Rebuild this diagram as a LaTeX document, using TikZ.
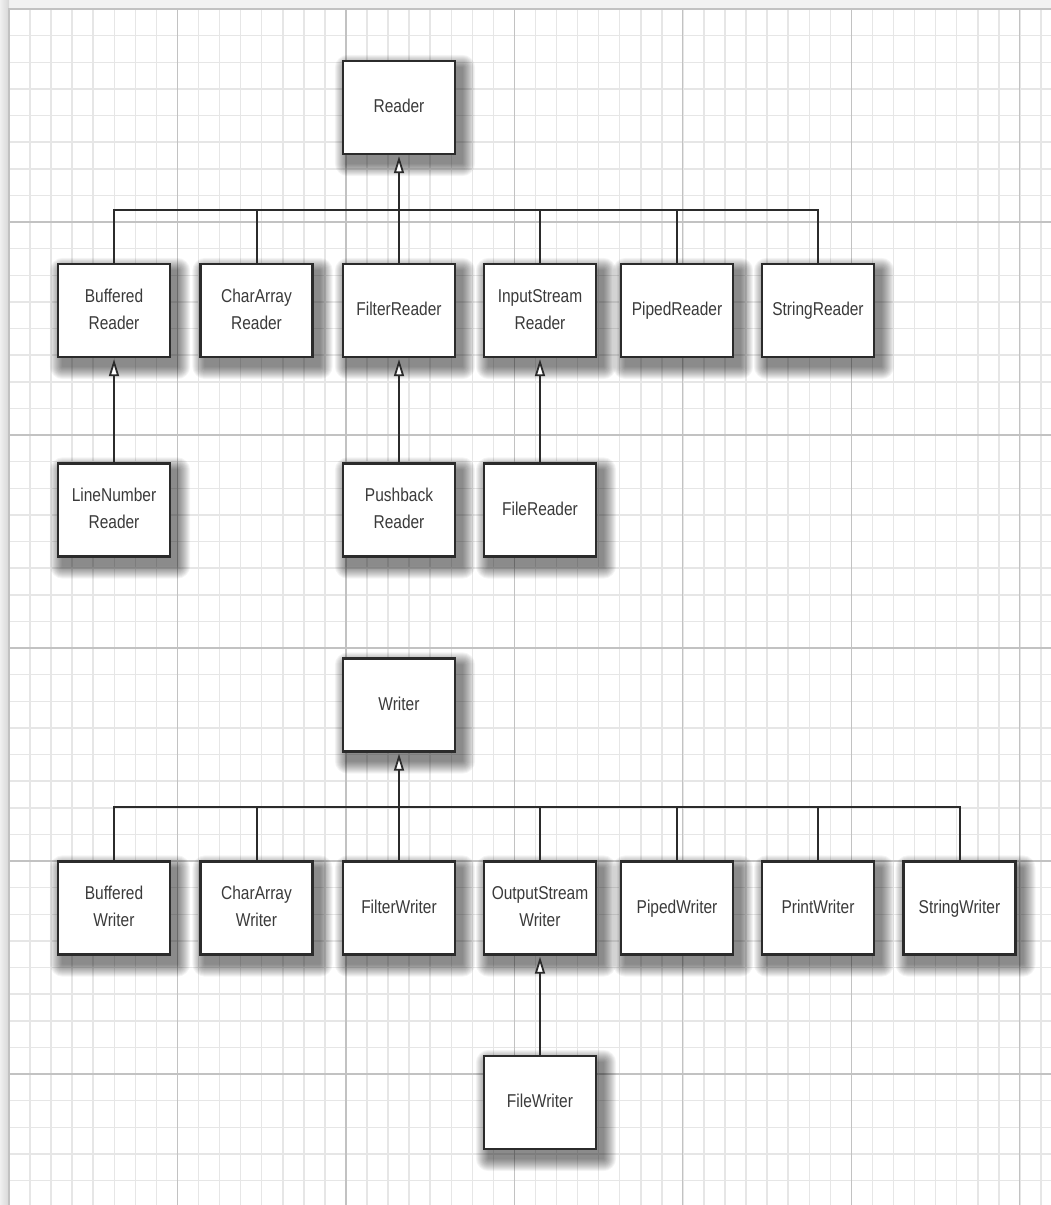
\documentclass[tikz,border=0pt]{standalone}
\usepackage{fontspec}
\setmainfont{Liberation Sans}
\usetikzlibrary{arrows.meta,calc}
\pgfdeclarelayer{bg}
\pgfdeclarelayer{shd}
\pgfsetlayers{bg,shd,main}
\definecolor{ink}{HTML}{2B2B2B}
\definecolor{txt}{HTML}{3A3A3A}
\definecolor{minorgrid}{HTML}{E6E6E6}
\definecolor{majorgrid}{HTML}{C2C2C2}
\newcommand\lbl[1]{\scalebox{1}[1.2]{\begin{tabular}{@{}c@{}}#1\end{tabular}}}
\begin{document}
\begin{tikzpicture}[x=1pt,y=-1pt,
  cls/.style={draw=ink,line width=2.4pt,fill=white,minimum width=112pt,minimum height=93pt,
    inner sep=0pt,font=\fontsize{15.5}{22.5}\selectfont,text=txt},
  conn/.style={draw=ink,line width=2pt},
  inh/.style={conn,shorten >=1pt,-{Triangle[open,length=17pt,width=10pt,line width=1.8pt,fill=white]}},
  shadowfill/.style={fill=black,opacity=0.045},
  minorline/.style={draw=minorgrid,line width=1.5pt},
  majorline/.style={draw=majorgrid,line width=1.1pt}]
\useasboundingbox (0,0) rectangle (1051,1205);

% ---------- background grid ----------
\begin{pgfonlayer}{bg}
  \fill[gray!10] (0,0) rectangle (1051,1205);
  \shade[left color=gray!12,right color=gray!32] (0,0) rectangle (9,1205);
  \fill[white] (9,8) rectangle (1051,1205);
  \foreach \k in {0,...,49}{
    \pgfmathsetmacro\xx{9+21.06*\k}
    \draw[minorline] (\xx,8) -- (\xx,1205);
  }
  \foreach \k in {0,...,45}{
    \pgfmathsetmacro\yy{9+26.625*\k}
    \draw[minorline] (9,\yy) -- (1051,\yy);
  }
  \foreach \k in {0,8,...,48}{
    \pgfmathsetmacro\xx{9+21.06*\k}
    \draw[majorline] (\xx,8) -- (\xx,1205);
  }
  \foreach \k in {0,8,...,40}{
    \pgfmathsetmacro\yy{9+26.625*\k}
    \draw[majorline] (9,\yy) -- (1051,\yy);
  }
\end{pgfonlayer}

% ---------- Reader hierarchy ----------
\node[cls] (reader) at (399,107.5) {\lbl{Reader}};
\node[cls] (br)  at (114,310.5) {\lbl{Buffered\\Reader}};
\node[cls] (car) at (256.5,310.5) {\lbl{CharArray\\Reader}};
\node[cls] (fr)  at (399,310.5) {\lbl{FilterReader}};
\node[cls] (isr) at (540,310.5) {\lbl{InputStream\\Reader}};
\node[cls] (pr)  at (677,310.5) {\lbl{PipedReader}};
\node[cls] (sr)  at (818,310.5) {\lbl{StringReader}};
\node[cls] (lnr) at (114,510) {\lbl{LineNumber\\Reader}};
\node[cls] (pbr) at (399,510) {\lbl{Pushback\\Reader}};
\node[cls] (filer) at (540,510) {\lbl{FileReader}};

% ---------- Writer hierarchy ----------
\node[cls] (writer) at (399,705) {\lbl{Writer}};
\node[cls] (bw)  at (114,908) {\lbl{Buffered\\Writer}};
\node[cls] (caw) at (256.5,908) {\lbl{CharArray\\Writer}};
\node[cls] (fw)  at (399,908) {\lbl{FilterWriter}};
\node[cls] (osw) at (540,908) {\lbl{OutputStream\\Writer}};
\node[cls] (pw)  at (677,908) {\lbl{PipedWriter}};
\node[cls] (prw) at (818,908) {\lbl{PrintWriter}};
\node[cls] (sw)  at (959.5,908) {\lbl{StringWriter}};
\node[cls] (filew) at (540,1102.5) {\lbl{FileWriter}};

% ---------- shadows ----------
\begin{pgfonlayer}{shd}
  \foreach \n in {reader,br,car,fr,isr,pr,sr,lnr,pbr,filer,writer,bw,caw,fw,osw,pw,prw,sw,filew}{
    \foreach \r in {1,...,13}{
      \fill[shadowfill,rounded corners=\r pt]
        ($(\n.south west)+(6-\r,8+\r)$) rectangle ($(\n.north east)+(6+\r,8-\r)$);
    }
  }
\end{pgfonlayer}

% ---------- connectors: readers ----------
\coordinate (rbus) at (0,210);
\draw[conn] (br.north) -- (br.north |- rbus) -- (sr.north |- rbus) -- (sr.north);
\foreach \n in {car,isr,pr}{\draw[conn] (\n.north) -- (\n.north |- rbus);}
\draw[inh] (fr.north) -- (reader.south);
\draw[inh] (lnr.north) -- (br.south);
\draw[inh] (pbr.north) -- (fr.south);
\draw[inh] (filer.north) -- (isr.south);

% ---------- connectors: writers ----------
\coordinate (wbus) at (0,807);
\draw[conn] (bw.north) -- (bw.north |- wbus) -- (sw.north |- wbus) -- (sw.north);
\foreach \n in {caw,osw,pw,prw}{\draw[conn] (\n.north) -- (\n.north |- wbus);}
\draw[inh] (fw.north) -- (writer.south);
\draw[inh] (filew.north) -- (osw.south);
\end{tikzpicture}
\end{document}
